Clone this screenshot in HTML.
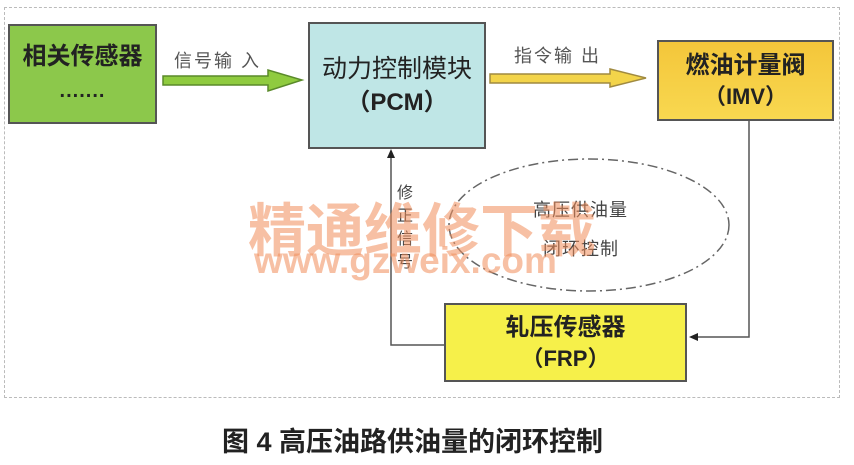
<!DOCTYPE html>
<html><head><meta charset="utf-8"><style>
body{margin:0;width:854px;height:465px;background:#fff;overflow:hidden;position:relative;font-family:"Liberation Sans","Noto Sans CJK SC",sans-serif;}
.b{position:absolute;box-sizing:border-box;border:2px solid #555;display:flex;flex-direction:column;align-items:center;justify-content:center;color:#222;}
.t{position:absolute;white-space:nowrap;}
</style></head><body>
<div style="position:absolute;left:4px;top:7px;width:836px;height:391px;border:1px dashed #bbb;box-sizing:border-box"></div>
<svg width="854" height="465" style="position:absolute;left:0;top:0">
<polygon points="163,76 268,76 268,70 302,80 268,91 268,85 163,85" fill="#8fcb3f" stroke="#5a8a2a" stroke-width="1.5"/>
<polygon points="490,74 610,74 610,69 646,78 610,87 610,83 490,83" fill="#f3d44a" stroke="#a08a40" stroke-width="1.5"/>
<polyline points="444,345 391,345 391,156" fill="none" stroke="#555" stroke-width="1.5"/>
<polygon points="391,149 387,158 395,158" fill="#222"/>
<polyline points="749,121 749,337 696,337" fill="none" stroke="#555" stroke-width="1.5"/>
<polygon points="689,337 698,333 698,341" fill="#222"/>
<ellipse cx="589" cy="225" rx="140" ry="66" fill="none" stroke="#666" stroke-width="1.5" stroke-dasharray="10,4,2,4"/>
</svg>
<div class="b" style="left:8px;top:24px;width:149px;height:100px;background:#8cc84b;">
<div style="font-size:24px;font-weight:bold;line-height:34px">相关传感器</div>
<div style="font-size:20px;font-weight:bold;line-height:34px;letter-spacing:1px">.......</div></div>
<div class="b" style="left:308px;top:22px;width:178px;height:127px;background:#bfe6e6;">
<div style="font-size:25px;line-height:34px">动力控制模块</div>
<div style="font-size:24px;font-weight:bold;line-height:34px">（PCM）</div></div>
<div class="b" style="left:657px;top:40px;width:177px;height:81px;background:linear-gradient(#f4c63a,#f8d850);">
<div style="font-size:24px;font-weight:bold;line-height:32px">燃油计量阀</div>
<div style="font-size:22px;font-weight:bold;line-height:30px">（IMV）</div></div>
<div class="b" style="left:444px;top:303px;width:243px;height:79px;background:#f6f04a;">
<div style="font-size:24px;font-weight:bold;line-height:32px">轧压传感器</div>
<div style="font-size:22px;font-weight:bold;line-height:30px">（FRP）</div></div>
<div class="t" style="left:174px;top:47px;font-size:18px;color:#555;letter-spacing:2px">信号输 入</div>
<div class="t" style="left:514px;top:42px;font-size:18px;color:#555;letter-spacing:2px">指令输 出</div>
<div class="t" style="left:397px;top:182px;font-size:16px;line-height:23px;color:#444;width:18px;white-space:normal">修正信号</div>
<div class="t" style="left:533px;top:196px;font-size:18px;color:#444;letter-spacing:1px">高压供油量</div>
<div class="t" style="left:543px;top:235px;font-size:18px;color:#444;letter-spacing:1px">闭环控制</div>
<div class="t" style="left:248px;top:184px;font-size:58px;font-weight:bold;color:rgba(240,140,90,0.55);">精通维修下载</div>
<div class="t" style="left:254px;top:240px;font-size:37px;font-weight:bold;color:rgba(240,140,90,0.55);letter-spacing:0px">www.gzweix.com</div>
<div class="t" style="left:222px;top:420px;font-size:27px;font-weight:bold;color:#222">图 4 高压油路供油量的闭环控制</div>
</body></html>
